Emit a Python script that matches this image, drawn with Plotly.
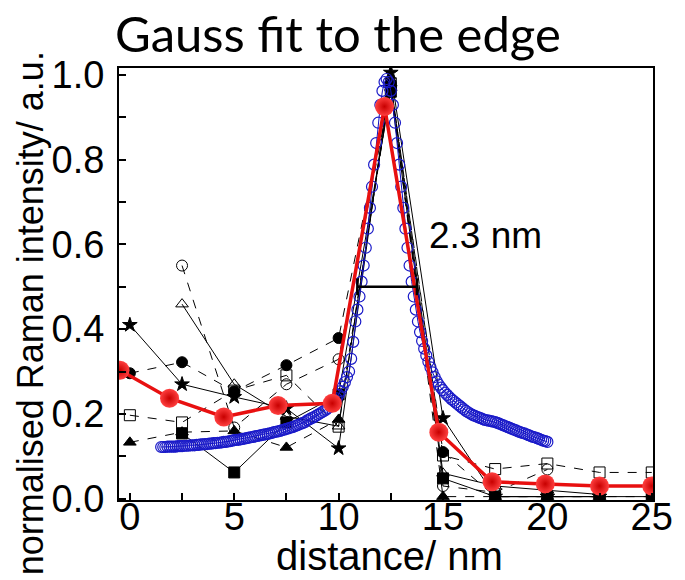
import numpy as np
import plotly.graph_objects as go

# ---------------- data ----------------
x_meas = [0, 2.5, 5, 7.5, 10, 12.5, 15, 17.5, 20, 22.5, 25]

filled_circle = [0.296, 0.322, 0.253, 0.315, 0.379, 0.98, 0.11, 0.005, 0.005, 0.005, 0.005]
open_circle   = [None, 0.55, 0.168, 0.27, 0.329, 0.97, 0.03, 0.015, 0.069, None, None]
filled_square = [None, 0.154, 0.062, 0.18, 0.246, 0.96, 0.048, 0.005, 0.005, 0.005, 0.005]
open_square   = [0.197, 0.18, 0.255, 0.291, 0.17, 0.98, 0.102, 0.07, 0.083, 0.062, 0.062]
filled_tri    = [0.133, 0.157, 0.16, 0.121, 0.187, 0.97, 0.005, 0.005, 0.005, 0.005, None]
open_tri      = [None, 0.459, 0.27, 0.194, 0.171, 0.98, 0.06, 0.03, 0.02, 0.01, None]
star          = [0.41, 0.27, 0.24, 0.213, 0.119, 1.005, 0.19, 0.005, 0.005, 0.005, None]

red_x = [-0.47, 1.9, 4.5, 7.1, 9.7, 12.2, 14.8, 17.35, 19.9, 22.5, 25.0]
red_y = [0.303, 0.237, 0.193, 0.22, 0.225, 0.925, 0.157, 0.04, 0.035, 0.03, 0.03]

fit_x_start, fit_x_step = 1.5, 0.1
fit_y = [
    # 1.5 - 2.0
    0.122, 0.122, 0.122, 0.123, 0.123, 0.123,
    # 2.1 - 3.0
    0.123, 0.123, 0.124, 0.124, 0.124, 0.125, 0.125, 0.125, 0.126, 0.126,
    # 3.1 - 4.0
    0.126, 0.127, 0.127, 0.128, 0.128, 0.129, 0.129, 0.130, 0.130, 0.131,
    # 4.1 - 5.0
    0.131, 0.132, 0.132, 0.133, 0.134, 0.134, 0.135, 0.136, 0.137, 0.138,
    # 5.1 - 6.0
    0.139, 0.139, 0.140, 0.141, 0.142, 0.143, 0.144, 0.145, 0.146, 0.147,
    # 6.1 - 7.0
    0.148, 0.149, 0.150, 0.151, 0.152, 0.153, 0.154, 0.155, 0.157, 0.158,
    # 7.1 - 8.0
    0.159, 0.160, 0.162, 0.163, 0.165, 0.166, 0.168, 0.169, 0.171, 0.173,
    # 8.1 - 9.0
    0.175, 0.177, 0.179, 0.181, 0.185, 0.187, 0.190, 0.192, 0.195, 0.198,
    # 9.1 - 10.0
    0.201, 0.204, 0.207, 0.210, 0.214, 0.219, 0.224, 0.230, 0.237, 0.245,
    # 10.1 - 10.7
    0.254, 0.264, 0.275, 0.287, 0.300, 0.330, 0.370,
    # 10.8 - 12.2
    0.418, 0.446, 0.477, 0.512, 0.550, 0.592, 0.637, 0.686, 0.736, 0.788,
    0.839, 0.887, 0.929, 0.962, 0.983,
    # 12.3
    0.990,
    # 12.4 - 14.1
    0.983, 0.962, 0.929, 0.887, 0.839, 0.788, 0.736, 0.686, 0.637, 0.592,
    0.550, 0.512, 0.477, 0.446, 0.418, 0.393, 0.372, 0.354,
    # 14.2 - 15.0
    0.338, 0.323, 0.310, 0.298, 0.287, 0.277, 0.269, 0.262, 0.256,
    # 15.1 - 16.0
    0.250, 0.245, 0.240, 0.235, 0.231, 0.227, 0.223, 0.219, 0.215, 0.211,
    # 16.1 - 17.0
    0.207, 0.204, 0.201, 0.198, 0.196, 0.194, 0.192, 0.190, 0.188, 0.186,
    # 17.1 - 18.0
    0.185, 0.184, 0.183, 0.182, 0.181, 0.179, 0.177, 0.175, 0.173, 0.171,
    # 18.1 - 19.0
    0.169, 0.167, 0.165, 0.163, 0.161, 0.159, 0.157, 0.155, 0.154, 0.152,
    # 19.1 - 20.0
    0.150, 0.148, 0.146, 0.145, 0.143, 0.141, 0.139, 0.137, 0.136, 0.134,
]
fit_x = np.round(fit_x_start + fit_x_step * np.arange(len(fit_y)), 2)

fwhm_x = [10.9, 13.75]
fwhm_y = [0.5, 0.5]
fwhm_label = "2.3 nm"

title_text = "Gauss fit to the edge"
x_title = "distance/ nm"
y_title = "normalised Raman intensity/ a.u."

# ---------------- figure ----------------
fig = go.Figure()

black_series = [
    (filled_circle, "circle", "dash"),
    (open_circle, "circle-open", "dash"),
    (filled_square, "square", "solid"),
    (open_square, "square-open", "dash"),
    (filled_tri, "triangle-up", "dash"),
    (open_tri, "triangle-up-open", "solid"),
    (star, "star", "solid"),
]
for ys, sym, dash in black_series:
    fig.add_trace(go.Scatter(
        x=x_meas, y=ys, mode="lines+markers", connectgaps=False,
        line=dict(color="black", width=1, dash=dash),
        marker=dict(symbol=sym, size=11, color="black",
                    line=dict(color="black", width=1)),
        showlegend=False,
    ))

fig.add_trace(go.Scatter(
    x=fit_x, y=fit_y, mode="lines+markers",
    line=dict(color="#1010c0", width=1),
    marker=dict(symbol="circle-open", size=11, color="#1a1ac8",
                line=dict(width=1.2)),
    showlegend=False,
))

fig.add_trace(go.Scatter(
    x=red_x, y=red_y, mode="lines+markers",
    line=dict(color="#e81010", width=3.5),
    marker=dict(symbol="circle", size=19, color="#ff4040",
                gradient=dict(type="radial", color="#c80000"),
                line=dict(width=0)),
    showlegend=False,
))

fig.add_trace(go.Scatter(
    x=fwhm_x, y=fwhm_y, mode="lines+markers",
    line=dict(color="black", width=2.5),
    marker=dict(symbol="line-ns", size=12, line=dict(color="black", width=2.5)),
    showlegend=False,
))

fig.add_annotation(x=fwhm_x[1], y=0.62, xref="x", yref="y", text=fwhm_label,
                   showarrow=False, xanchor="left", yanchor="middle",
                   xshift=10, font=dict(family="Liberation Sans", size=37, color="black"))

fig.add_annotation(x=-0.011, y=1.081, xref="paper", yref="paper", text=title_text,
                   showarrow=False, xanchor="left", yanchor="middle",
                   font=dict(family="Lato", size=49, color="black"))
fig.add_annotation(x=0.506, y=-80 / 432, xref="paper", yref="paper", text=x_title,
                   showarrow=False, xanchor="center", yanchor="bottom", yshift=0,
                   font=dict(family="Liberation Sans", size=40, color="black"))
fig.add_annotation(x=-0.164, y=0.433, xref="paper", yref="paper", text=y_title,
                   showarrow=False, xanchor="center", yanchor="middle", textangle=-90,
                   font=dict(family="Liberation Sans", size=36, color="black"))

tick_font = dict(family="Liberation Sans", size=38, color="black")
axis_common = dict(showgrid=False, zeroline=False, showline=True, linecolor="black",
                   linewidth=2, mirror=True, ticks="inside", tickcolor="black",
                   tickwidth=1.5, ticklen=7, tickfont=tick_font)

fig.update_xaxes(range=[-0.52, 25.06], tickvals=[0, 5, 10, 15, 20, 25],
                 ticklabelstandoff=-18,
                 minor=dict(dtick=2.5, tick0=0, ticks="inside", ticklen=7,
                            tickcolor="black", tickwidth=1.5),
                 **axis_common)
fig.update_yaxes(range=[-0.003, 1.016], tickvals=[0, 0.2, 0.4, 0.6, 0.8, 1.0],
                 tickformat=".1f", ticklabelstandoff=5,
                 minor=dict(dtick=0.1, tick0=0, ticks="inside", ticklen=7,
                            tickcolor="black", tickwidth=1.5),
                 **axis_common)

fig.update_layout(width=685, height=580,
                  margin=dict(l=119, r=22, t=68, b=80),
                  paper_bgcolor="white", plot_bgcolor="white")

fig.write_html("out.html")
